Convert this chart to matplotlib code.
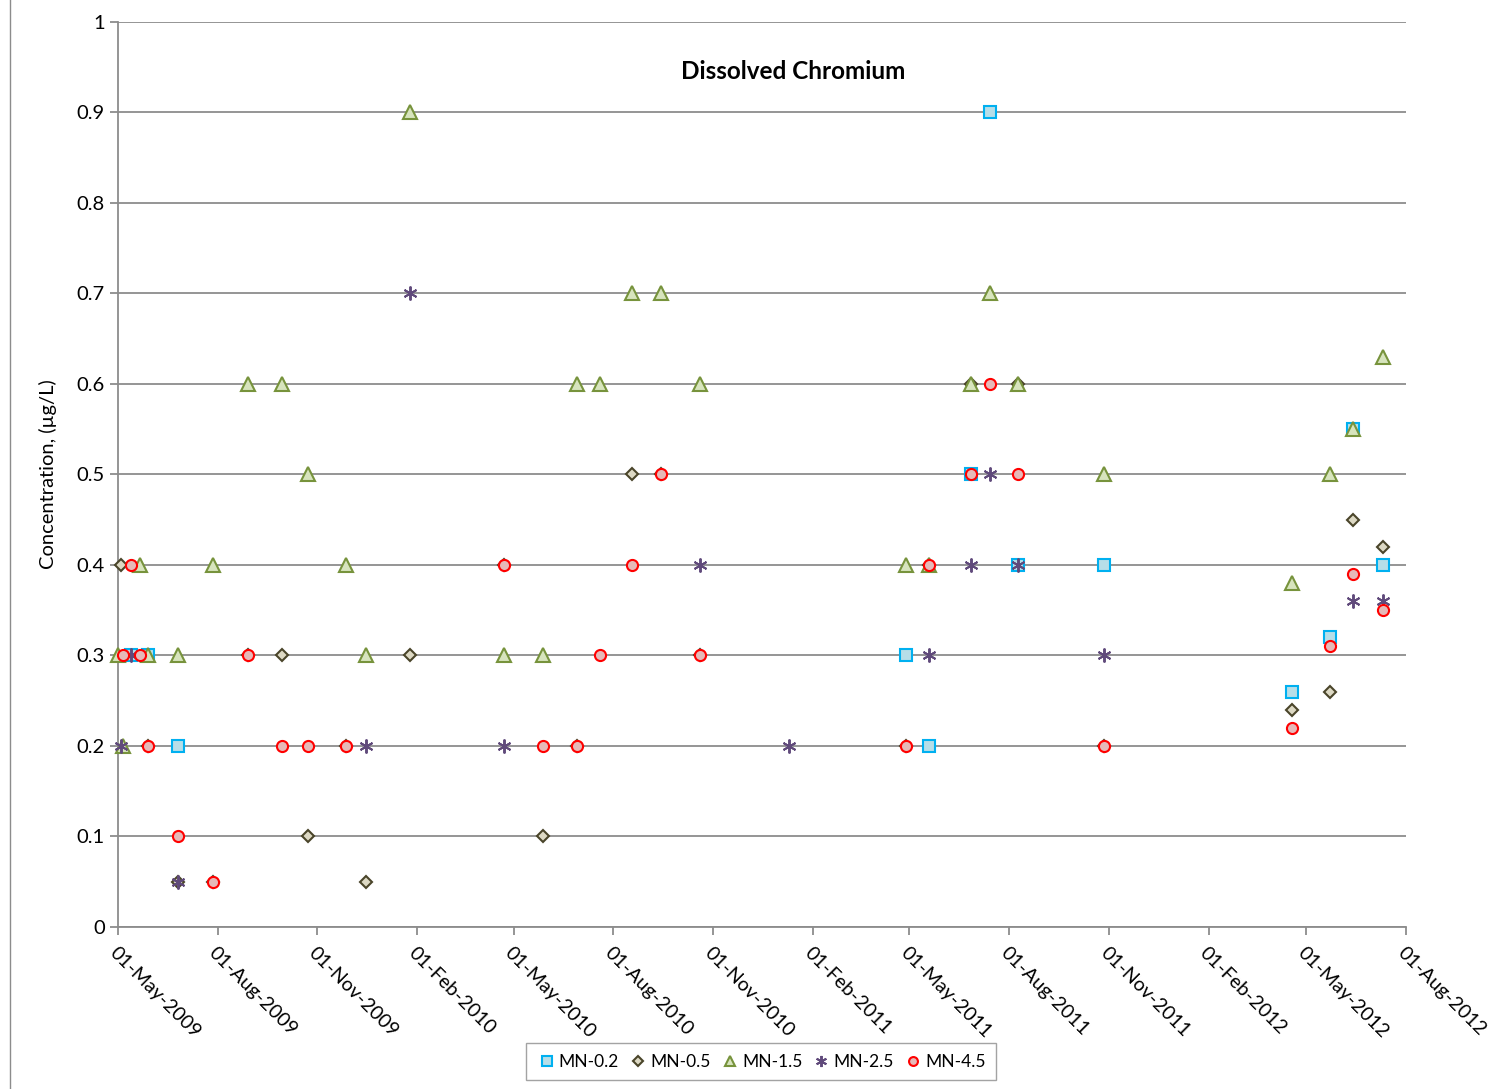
import matplotlib
matplotlib.use("Agg")
import matplotlib.pyplot as plt
import matplotlib.dates as mdates
import pandas as pd
from matplotlib.lines import Line2D

plt.rcParams["font.family"] = ["Lato", "DejaVu Sans"]

# sample dates and values per station
mn02_dates = ["2009-05-13", "2009-05-29", "2009-06-25", "2011-04-28", "2011-05-19",
              "2011-06-27", "2011-07-14", "2011-08-09", "2011-10-27", "2012-04-18",
              "2012-05-23", "2012-06-13", "2012-07-11"]
mn02_vals = [0.3, 0.3, 0.2, 0.3, 0.2, 0.5, 0.9, 0.4, 0.4, 0.26, 0.32, 0.55, 0.40]

mn05_dates = ["2009-05-04", "2009-05-29", "2009-06-25", "2009-07-28", "2009-08-29",
              "2009-09-29", "2009-10-23", "2009-11-27", "2009-12-16", "2010-01-25",
              "2010-04-22", "2010-05-28", "2010-06-28", "2010-08-18", "2010-09-14",
              "2010-10-20", "2011-04-28", "2011-05-19", "2011-06-27", "2011-08-09",
              "2011-10-27", "2012-04-18", "2012-05-23", "2012-06-13", "2012-07-11"]
mn05_vals = [0.4, 0.2, 0.05, 0.05, 0.3, 0.3, 0.1, 0.2, 0.05, 0.3,
             0.4, 0.1, 0.2, 0.5, 0.5, 0.3, 0.2, 0.4, 0.6, 0.6,
             0.2, 0.24, 0.26, 0.45, 0.42]

mn15_dates = ["2009-05-01", "2009-05-06", "2009-05-21", "2009-05-29", "2009-06-25",
              "2009-07-28", "2009-08-29", "2009-09-29", "2009-10-23", "2009-11-27",
              "2009-12-16", "2010-01-25", "2010-04-22", "2010-05-28", "2010-06-28",
              "2010-07-20", "2010-08-18", "2010-09-14", "2010-10-20", "2011-04-28",
              "2011-05-19", "2011-06-27", "2011-07-14", "2011-08-09", "2011-10-27",
              "2012-04-18", "2012-05-23", "2012-06-13", "2012-07-11"]
mn15_vals = [0.3, 0.2, 0.4, 0.3, 0.3, 0.4, 0.6, 0.6, 0.5, 0.4,
             0.3, 0.9, 0.3, 0.3, 0.6, 0.6, 0.7, 0.7, 0.6, 0.4,
             0.4, 0.6, 0.7, 0.6, 0.5, 0.38, 0.5, 0.55, 0.63]

mn25_dates = ["2009-05-04", "2009-05-13", "2009-06-25", "2009-12-16", "2010-01-25",
              "2010-04-22", "2010-10-20", "2011-01-10", "2011-05-19", "2011-06-27",
              "2011-07-14", "2011-08-09", "2011-10-27", "2012-06-13", "2012-07-11"]
mn25_vals = [0.2, 0.3, 0.05, 0.2, 0.7, 0.2, 0.4, 0.2, 0.3, 0.4,
             0.5, 0.4, 0.3, 0.36, 0.36]

mn45_dates = ["2009-05-06", "2009-05-13", "2009-05-21", "2009-05-29", "2009-06-25",
              "2009-07-28", "2009-08-29", "2009-09-29", "2009-10-23", "2009-11-27",
              "2010-04-22", "2010-05-28", "2010-06-28", "2010-07-20", "2010-08-18",
              "2010-09-14", "2010-10-20", "2011-04-28", "2011-05-19", "2011-06-27",
              "2011-07-14", "2011-08-09", "2011-10-27", "2012-04-18", "2012-05-23",
              "2012-06-13", "2012-07-11"]
mn45_vals = [0.3, 0.4, 0.3, 0.2, 0.1, 0.05, 0.3, 0.2, 0.2, 0.2,
             0.4, 0.2, 0.2, 0.3, 0.4, 0.5, 0.3, 0.2, 0.4, 0.5,
             0.6, 0.5, 0.2, 0.22, 0.31, 0.39, 0.35]

tick_dates = pd.date_range("2009-05-01", "2012-08-01", freq="3MS")

fig = plt.figure(figsize=(14.95, 10.89), dpi=100)
ax = fig.add_axes([0.0789, 0.1488, 0.8616, 0.831])

series = [
    ("MN-0.2", mn02_dates, mn02_vals, dict(marker="s", ms=8.5, mfc="#B7DEE8", mec="#00B0F0", mew=1.5)),
    ("MN-0.5", mn05_dates, mn05_vals, dict(marker="D", ms=6.5, mfc="#DDD9C4", mec="#4A452A", mew=1.5)),
    ("MN-1.5", mn15_dates, mn15_vals, dict(marker="^", ms=9.5, mfc="#D7E4BD", mec="#77933C", mew=1.5)),
    ("MN-2.5", mn25_dates, mn25_vals, dict(marker=(6, 2, 0), ms=10, mec="#604A7B", mew=1.4)),
    ("MN-4.5", mn45_dates, mn45_vals, dict(marker="o", ms=8, mfc="#E6B9B8", mec="#FF0000", mew=1.5)),
]

for i, (name, d, v, style) in enumerate(series):
    ax.plot(pd.to_datetime(d), v, linestyle="none", label=name, zorder=3 + i, clip_on=False, **style)

ax.set_xlim(pd.Timestamp("2009-05-01"), pd.Timestamp("2012-08-01"))
ax.set_ylim(0, 1)
ax.set_yticks([i / 10 for i in range(11)])
ax.set_yticklabels(["0", "0.1", "0.2", "0.3", "0.4", "0.5", "0.6", "0.7", "0.8", "0.9", "1"])
ax.set_xticks(tick_dates)
ax.xaxis.set_major_formatter(mdates.DateFormatter("%d-%b-%Y"))
plt.setp(ax.get_xticklabels(), rotation=-45, ha="left", rotation_mode="anchor")

ax.yaxis.grid(True, color="#8C8C8C", linewidth=1.3)
ax.set_axisbelow(True)
for side in ["top", "right"]:
    ax.spines[side].set_visible(False)
for side in ["left", "bottom"]:
    ax.spines[side].set_color("#8C8C8C")
    ax.spines[side].set_linewidth(1.3)
ax.tick_params(axis="both", colors="#8C8C8C", labelcolor="black", labelsize=14.5,
               length=6, width=1.3, direction="out")
ax.tick_params(axis="x", pad=6, labelsize=14)

ax.set_ylabel("Concentration, (µg/L)", fontsize=14.5)
ax.yaxis.set_label_coords(-0.047, 0.5)
ax.text(0.524, 0.945, "Dissolved Chromium", transform=ax.transAxes,
        ha="center", va="center", fontsize=17.5, fontweight="bold")

handles = [Line2D([], [], linestyle="none", **dict(s[3], ms=s[3]["ms"] * 0.8)) for s in series]
leg = fig.legend(handles, [s[0] for s in series], loc="center", bbox_to_anchor=(0.509, 0.025),
                 ncol=5, frameon=True, fancybox=False, fontsize=12.5, handletextpad=0.1,
                 columnspacing=0.5, borderpad=0.6, handlelength=1.2)
leg.get_frame().set_edgecolor("#8C8C8C")
leg.get_frame().set_linewidth(1.0)

fig.add_artist(Line2D([0.0067, 0.0067], [0.0, 1.0], color="#8C8C8C", linewidth=1.0))

fig.savefig("out.png", dpi=100)
